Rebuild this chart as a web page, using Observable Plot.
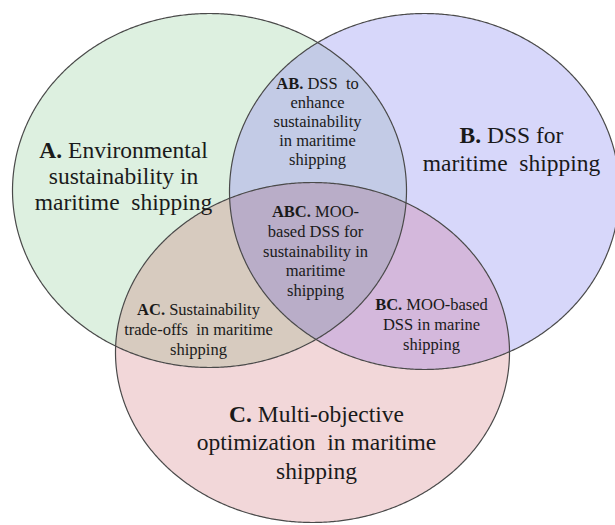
<!DOCTYPE html>
<html><head><meta charset="utf-8">
<script src="https://cdn.jsdelivr.net/npm/d3@7"></script>
<script src="https://cdn.jsdelivr.net/npm/@observablehq/plot@0.6"></script>
<style>html,body{margin:0;padding:0;background:#fff;overflow:hidden}</style>
</head><body><div id="chart"></div>
<script>
// ---- data ----
const sets = ["A", "B", "C"];
const setColors = ["#ddf0e0", "#d7d7fa", "#f2d7d9"];
const overlaps = ["AB", "AC", "BC", "ABC"];
const overlapColors = ["#c3cbe6", "#d7cbbf", "#d4b8dc", "#b9adc8"];
const regionNames = ["A", "B", "C", "AB", "ABC", "AC", "BC"];
const regionLines = [
  ["A. Environmental", "sustainability in", "maritime  shipping"],
  ["B. DSS for", "maritime  shipping"],
  ["C. Multi-objective", "optimization  in maritime", "shipping"],
  ["AB. DSS  to", "enhance", "sustainability", "in maritime", "shipping"],
  ["ABC. MOO-", "based DSS for", "sustainability in", "maritime", "shipping"],
  ["AC.  Sustainability", "trade-offs  in maritime", "shipping"],
  ["BC. MOO-based", "DSS in marine", "shipping"]
];

// ---- layout (diagram geometry, in plot units) ----
const layout = {
  circles: {A: {cx: 209, cy: 190, rx: 197, ry: 177},
            B: {cx: 424, cy: 191, rx: 195, ry: 178},
            C: {cx: 312, cy: 352, rx: 197, ry: 170}},
  labels: {A: {x: 123, y: 157, lh: 26, size: 23.5},
           B: {x: 511, y: 142, lh: 28.5, size: 23.5},
           C: {x: 316, y: 421, lh: 28.5, size: 23.5},
           AB: {x: 317, y: 88, lh: 19, size: 16.5},
           ABC: {x: 315, y: 216.5, lh: 19.8, size: 16.5},
           AC: {x: 198, y: 314, lh: 20, size: 16.5},
           BC: {x: 431, y: 309.5, lh: 19.8, size: 16.5}}
};

// ---- geometry helpers ----
const N = 720;
function outline(name) {
  const c = layout.circles[name];
  return d3.range(N).map(i => {
    const t = (i / N) * 2 * Math.PI;
    return {x: c.cx + c.rx * Math.cos(t), y: c.cy + c.ry * Math.sin(t), set: name};
  });
}
function inside(p, name) {
  const c = layout.circles[name];
  const dx = (p.x - c.cx) / c.rx, dy = (p.y - c.cy) / c.ry;
  return dx * dx + dy * dy <= 1;
}
function intersection(names) {
  let pts = [];
  for (const n of names) {
    const others = names.filter(m => m !== n);
    pts = pts.concat(outline(n).filter(p => others.every(o => inside(p, o))));
  }
  const mx = d3.mean(pts, p => p.x), my = d3.mean(pts, p => p.y);
  pts.sort((a, b) => Math.atan2(a.y - my, a.x - mx) - Math.atan2(b.y - my, b.x - mx));
  return pts;
}

const marks = [];
sets.forEach((s, i) => marks.push(Plot.line(outline(s), {x: "x", y: "y", fill: setColors[i], stroke: "none", curve: "linear-closed"})));
overlaps.forEach((o, i) => marks.push(Plot.line(intersection(o.split("")), {x: "x", y: "y", fill: overlapColors[i], stroke: "none", curve: "linear-closed"})));
sets.forEach(s => marks.push(Plot.line(outline(s), {x: "x", y: "y", stroke: "#4a4a4a", strokeWidth: 1.2, curve: "linear-closed"})));

const textRows = [];
regionNames.forEach((r, i) => {
  const L = layout.labels[r];
  regionLines[i].forEach((line, j) => textRows.push({x: L.x, y: L.y + j * L.lh, text: line, size: L.size}));
});
marks.push(Plot.text(textRows, {x: "x", y: "y", text: "text", fontSize: "size", lineAnchor: "bottom", textAnchor: "middle", fill: "#1a1a1a", fontFamily: "Liberation Serif, Times New Roman, serif"}));

const chart = Plot.plot({
  width: 615, height: 525,
  margin: 0,
  x: {domain: [0, 615], range: [0, 615], axis: null},
  y: {domain: [0, 525], range: [0, 525], axis: null},
  style: {background: "#fff", fontFamily: "Liberation Serif, Times New Roman, serif"},
  marks
});

// bold prefixes
const re = /^(ABC|AB|AC|BC|A|B|C)\.(\s*)(.*)$/;
chart.querySelectorAll("text").forEach(t => {
  t.style.whiteSpace = "pre";
  const m = (t.textContent || "").match(re);
  if (!m) return;
  t.textContent = "";
  const b = document.createElementNS("http://www.w3.org/2000/svg", "tspan");
  b.setAttribute("font-weight", "bold");
  b.textContent = m[1] + ".";
  t.appendChild(b);
  t.appendChild(document.createTextNode(" " + m[3]));
});
document.getElementById("chart").appendChild(chart);
</script>
</body></html>
